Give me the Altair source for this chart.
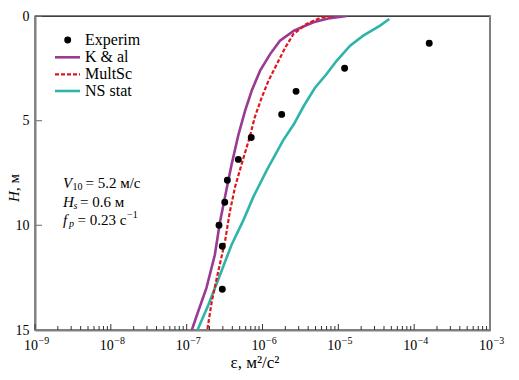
import altair as alt
import pandas as pd

# ---------------- data ----------------
exp_eps = [1.58e-4, 1.21e-5, 2.77e-6, 1.79e-6, 7.1e-7, 4.8e-7, 3.44e-7, 3.18e-7, 2.67e-7, 2.95e-7, 2.95e-7]
exp_h = [1.3, 2.5, 3.6, 4.7, 5.8, 6.85, 7.85, 8.9, 10.0, 11.0, 13.05]

kal_eps = [1.29e-5, 7.8e-6, 4.7e-6, 2.6e-6, 1.7e-6, 1.26e-6, 9.3e-7, 7.2e-7, 5.9e-7,
           4.8e-7, 3.9e-7, 3.2e-7, 2.75e-7, 2.35e-7, 1.82e-7, 1.41e-7, 1.17e-7]
kal_h = [0.0, 0.10, 0.30, 0.70, 1.18, 1.82, 2.61, 3.57, 4.52, 5.69, 7.12, 8.65, 9.84,
         11.42, 13.0, 14.14, 15.0]

ms_eps = [8.1e-6, 5.7e-6, 3.8e-6, 2.56e-6, 2.0e-6, 1.55e-6, 1.2e-6, 9.8e-7, 7.9e-7,
          6.8e-7, 5.5e-7, 4.35e-7, 3.7e-7, 3.2e-7, 2.6e-7, 2.14e-7, 1.87e-7]
ms_h = [0.0, 0.10, 0.38, 0.86, 1.50, 2.29, 3.09, 3.88, 4.84, 5.77, 6.88, 8.16, 9.37,
        10.78, 12.22, 13.65, 15.0]

ns_eps = [4.7e-5, 3.55e-5, 2.13e-5, 1.43e-5, 9.5e-6, 7.0e-6, 4.9e-6, 3.5e-6, 2.6e-6,
          1.88e-6, 1.14e-6, 7.6e-7, 5.6e-7, 3.9e-7, 2.75e-7, 1.93e-7, 1.39e-7]
ns_h = [0.14, 0.46, 0.94, 1.42, 2.14, 2.77, 3.44, 4.30, 5.16, 5.93, 7.36, 8.63, 9.75,
        10.94, 12.37, 13.81, 15.0]

decades = [-9, -8, -7, -6, -5, -4, -3]
exp_labels = ["−9", "−8", "−7", "−6", "−5", "−4", "−3"]
y_ticks = [0, 5, 10, 15]
series_names = ["Experim", "K & al", "MultSc", "NS stat"]
x_title = "ε, м²/с²"

# ---------------- styling ----------------
FONT = "Liberation Serif"
W, H = 455, 314
PURPLE = "#9a3a93"
RED = "#e0161e"
TEAL = "#2fb4a9"
GRAY = "#808080"

xscale = alt.Scale(type="log", domain=[1e-9, 1e-3], nice=False)
yscale = alt.Scale(domain=[0, 15], reverse=True, nice=False, zero=False)

major = [10.0 ** d for d in decades]
minor = [m * 10.0 ** d for d in decades[:-1] for m in range(2, 10)]

XAXIS = alt.Axis(
    values=major, labels=False, ticks=False, grid=False,
    domainColor=GRAY, domainWidth=2, title=None)
YAXIS = alt.Axis(
    values=y_ticks, ticks=False, grid=False, domainColor=GRAY, domainWidth=2,
    labelFont=FONT, labelFontSize=14, labelColor="black", labelPadding=6,
    labelFlush=False, title=None)


def xenc(field):
    return alt.X(field, type="quantitative", scale=xscale, axis=XAXIS, title=None)


def yenc(field):
    return alt.Y(field, type="quantitative", scale=yscale, axis=YAXIS, title=None)


one = pd.DataFrame({"a": [0]})

pts = alt.Chart(pd.DataFrame({"eps": exp_eps, "h": exp_h})).mark_circle(
    color="black", opacity=1, size=48
).encode(x=xenc("eps"), y=yenc("h"))


def line_layer(eps, h, color, dash=None, width=2.4):
    df = pd.DataFrame({"eps": eps, "h": h, "i": list(range(len(eps)))})
    kw = dict(color=color, strokeWidth=width, clip=True)
    if dash:
        kw["strokeDash"] = dash
    return alt.Chart(df).mark_line(**kw).encode(
        x=xenc("eps"), y=yenc("h"), order="i:Q")


kal = line_layer(kal_eps, kal_h, PURPLE, width=2.6)
ns = line_layer(ns_eps, ns_h, TEAL, width=2.6)
ms = line_layer(ms_eps, ms_h, RED, dash=[4, 2], width=2.2)

# inward ticks
xmaj = alt.Chart(pd.DataFrame({"eps": major})).mark_rule(color="#333", strokeWidth=1).encode(
    x=xenc("eps"), y=alt.value(H), y2=alt.value(H - 6))
xmin = alt.Chart(pd.DataFrame({"eps": minor})).mark_rule(color="#333", strokeWidth=1).encode(
    x=xenc("eps"), y=alt.value(H), y2=alt.value(H - 4))
ytk = alt.Chart(pd.DataFrame({"h": y_ticks})).mark_rule(color=GRAY, strokeWidth=1.2).encode(
    y=yenc("h"), x=alt.value(0), x2=alt.value(7))

# x tick labels: "10" with a superscript exponent
lab_df = pd.DataFrame({"eps": major, "e": exp_labels})
xlab_base = alt.Chart(lab_df).mark_text(
    text="10", font=FONT, fontSize=14, align="right", baseline="middle", dx=3, color="black"
).encode(x=xenc("eps"), y=alt.value(H + 16))
xlab_exp = alt.Chart(lab_df).mark_text(
    font=FONT, fontSize=10, align="left", baseline="middle", dx=3.5, color="black"
).encode(x=xenc("eps"), y=alt.value(H + 11), text="e:N")

right_border = alt.Chart(one).mark_rule(color=GRAY, strokeWidth=2).encode(
    x=alt.value(W), y=alt.value(0), y2=alt.value(H))


def txt(s, x, y, size=15, style="normal", angle=0, align="left", baseline="middle"):
    return alt.Chart(one).mark_text(
        text=s, font=FONT, fontSize=size, fontStyle=style, angle=angle,
        align=align, baseline=baseline, color="black"
    ).encode(x=alt.value(x), y=alt.value(y))


# legend
leg_rows = [24, 41.3, 58.3, 75]
legend = [
    alt.Chart(one).mark_circle(color="black", opacity=1, size=48).encode(
        x=alt.value(32.7), y=alt.value(leg_rows[0])),
    alt.Chart(one).mark_rule(color=PURPLE, strokeWidth=2.6).encode(
        x=alt.value(20), x2=alt.value(45), y=alt.value(leg_rows[1])),
    alt.Chart(one).mark_rule(color=RED, strokeWidth=2.2, strokeDash=[4, 2]).encode(
        x=alt.value(20), x2=alt.value(45), y=alt.value(leg_rows[2])),
    alt.Chart(one).mark_rule(color=TEAL, strokeWidth=2.6).encode(
        x=alt.value(20), x2=alt.value(45), y=alt.value(leg_rows[3])),
]
for name, yy in zip(series_names, leg_rows):
    legend.append(txt(name, 50, yy, size=16))

# annotation
notes = [
    txt("V", 28, 167.3, style="italic"),
    txt("10", 37.5, 171, size=10),
    txt("= 5.2 м/с", 50.5, 167.3),
    txt("H", 28, 185.7, style="italic"),
    txt("s", 38.5, 189.5, size=10, style="italic"),
    txt("= 0.6 м", 45, 185.7),
    txt("f", 28, 204, style="italic"),
    txt("p", 34, 208, size=10, style="italic"),
    txt("= 0.23 с", 42.5, 204),
    txt("−1", 92, 199, size=10),
    # axis titles
    txt("H", -21, 186, style="italic", angle=270),
    txt(", м", -21, 175, angle=270),
    txt(x_title, 220, 352, size=17, align="center", baseline="alphabetic"),
]

chart = alt.layer(
    xmin, xmaj, ytk, kal, ns, ms, pts, right_border, xlab_base, xlab_exp, *legend, *notes
).properties(
    width=W, height=H,
    autosize=alt.AutoSizeParams(type="none"),
    padding={"left": 27, "top": 8, "right": 20, "bottom": 42},
).configure_view(stroke="black", strokeWidth=1.3)

chart.save("out.html", embed_options={"renderer": "svg", "actions": False})
